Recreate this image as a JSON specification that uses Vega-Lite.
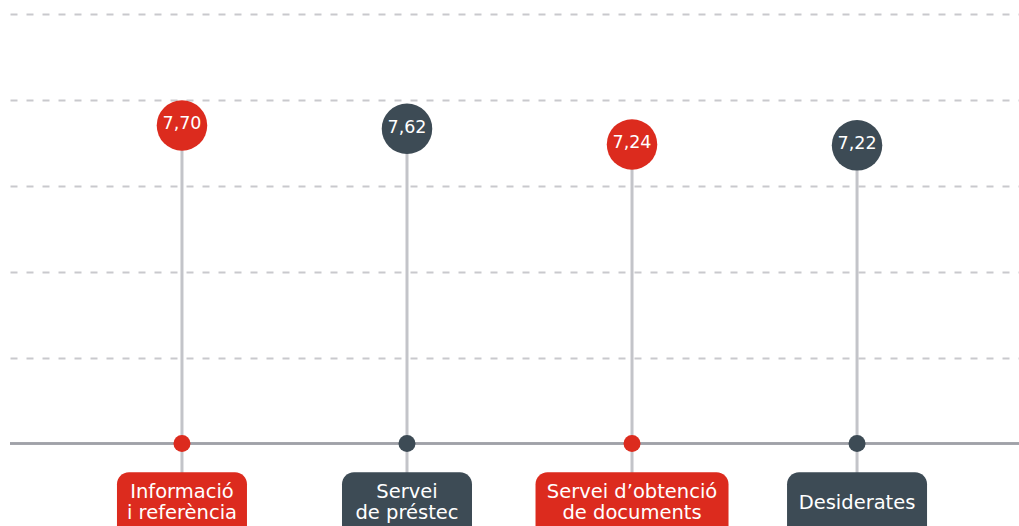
{
  "$schema": "https://vega.github.io/schema/vega-lite/v6.json",
  "width": 1009,
  "height": 512,
  "autosize": {"type": "none"},
  "padding": {"left": 10, "top": 14, "right": 0, "bottom": 0},
  "background": "white",
  "config": {
    "view": {"stroke": null},
    "font": "DejaVu Sans",
    "locale": {"number": {"decimal": ",", "thousands": ".", "grouping": [3], "currency": ["", " €"]}}
  },
  "data": {
    "values": [
      {"servei": "Informació i referència", "etiqueta": "Informació\ni referència", "valor": 7.70},
      {"servei": "Servei de préstec", "etiqueta": "Servei\nde préstec", "valor": 7.62},
      {"servei": "Servei d’obtenció de documents", "etiqueta": "Servei d’obtenció\nde documents", "valor": 7.24},
      {"servei": "Desiderates", "etiqueta": "Desiderates", "valor": 7.22}
    ]
  },
  "layer": [
    {
      "mark": {"type": "rule", "color": "#c3c4c9", "strokeWidth": 3},
      "encoding": {
        "x": {"field": "servei", "type": "nominal", "sort": null, "axis": null, "scale": {"type": "point", "domain": ["Informació i referència", "Servei de préstec", "Servei d’obtenció de documents", "Desiderates"], "padding": 0.742, "align": 0.515}},
        "y": {"field": "valor", "type": "quantitative", "scale": {"domain": [-2, 10.4], "nice": false, "zero": false},
              "axis": {"values": [2.08, 4.16, 6.24, 8.32, 10.4], "grid": true, "labels": false, "ticks": false, "domain": false, "title": null, "gridDash": [7, 9], "gridColor": "#c9c9cd", "gridWidth": 2, "minExtent": 0, "maxExtent": 0}},
        "y2": {"datum": -0.8}
      }
    },
    {
      "mark": {"type": "rule", "color": "#a0a1a8", "strokeWidth": 2},
      "encoding": {
        "y": {"datum": 0, "type": "quantitative", "scale": {"domain": [-2, 10.4], "nice": false, "zero": false},
              "axis": {"values": [2.08, 4.16, 6.24, 8.32, 10.4], "grid": true, "labels": false, "ticks": false, "domain": false, "title": null, "gridDash": [7, 9], "gridColor": "#c9c9cd", "gridWidth": 2, "minExtent": 0, "maxExtent": 0}}
      }
    },
    {
      "mark": {"type": "circle", "size": 289, "opacity": 1},
      "encoding": {
        "x": {"field": "servei", "type": "nominal", "sort": null, "axis": null, "scale": {"type": "point", "domain": ["Informació i referència", "Servei de préstec", "Servei d’obtenció de documents", "Desiderates"], "padding": 0.742, "align": 0.515}},
        "y": {"datum": 0, "type": "quantitative", "scale": {"domain": [-2, 10.4], "nice": false, "zero": false}},
        "color": {"field": "servei", "type": "nominal", "sort": null, "legend": null,
                  "scale": {"domain": ["Informació i referència", "Servei de préstec", "Servei d’obtenció de documents", "Desiderates"], "range": ["#dc2b1e", "#3d4b55", "#dc2b1e", "#3d4b55"]}}
      }
    },
    {
      "mark": {"type": "circle", "size": 2550, "opacity": 1},
      "encoding": {
        "x": {"field": "servei", "type": "nominal", "sort": null, "axis": null, "scale": {"type": "point", "domain": ["Informació i referència", "Servei de préstec", "Servei d’obtenció de documents", "Desiderates"], "padding": 0.742, "align": 0.515}},
        "y": {"field": "valor", "type": "quantitative", "scale": {"domain": [-2, 10.4], "nice": false, "zero": false}},
        "color": {"field": "servei", "type": "nominal", "sort": null, "legend": null,
                  "scale": {"domain": ["Informació i referència", "Servei de préstec", "Servei d’obtenció de documents", "Desiderates"], "range": ["#dc2b1e", "#3d4b55", "#dc2b1e", "#3d4b55"]}}
      }
    },
    {
      "mark": {"type": "text", "color": "white", "fontSize": 17.5, "align": "center", "baseline": "middle", "dy": -1},
      "encoding": {
        "x": {"field": "servei", "type": "nominal", "sort": null, "axis": null, "scale": {"type": "point", "domain": ["Informació i referència", "Servei de préstec", "Servei d’obtenció de documents", "Desiderates"], "padding": 0.742, "align": 0.515}},
        "y": {"field": "valor", "type": "quantitative", "scale": {"domain": [-2, 10.4], "nice": false, "zero": false}},
        "text": {"field": "valor", "type": "quantitative", "format": ".2f"}
      }
    },
    {
      "mark": {"type": "bar", "cornerRadius": 12, "clip": true},
      "encoding": {
        "x": {"field": "servei", "type": "nominal", "sort": null, "axis": null, "scale": {"type": "point", "domain": ["Informació i referència", "Servei de préstec", "Servei d’obtenció de documents", "Desiderates"], "padding": 0.742, "align": 0.515}},
        "y": {"datum": -0.7, "type": "quantitative", "scale": {"domain": [-2, 10.4], "nice": false, "zero": false}},
        "y2": {"datum": -2.6},
        "size": {"field": "servei", "type": "nominal", "legend": null,
                 "scale": {"type": "ordinal", "domain": ["Informació i referència", "Servei de préstec", "Servei d’obtenció de documents", "Desiderates"], "range": [130, 130, 193, 140]}},
        "color": {"field": "servei", "type": "nominal", "sort": null, "legend": null,
                  "scale": {"domain": ["Informació i referència", "Servei de préstec", "Servei d’obtenció de documents", "Desiderates"], "range": ["#dc2b1e", "#3d4b55", "#dc2b1e", "#3d4b55"]}}
      }
    },
    {
      "transform": [{"filter": "indexof(datum.etiqueta, '\\n') >= 0"}],
      "mark": {"type": "text", "color": "white", "fontSize": 19.5, "align": "center", "baseline": "alphabetic", "lineBreak": "\n", "lineHeight": 21},
      "encoding": {
        "x": {"field": "servei", "type": "nominal", "sort": null, "axis": null, "scale": {"type": "point", "domain": ["Informació i referència", "Servei de préstec", "Servei d’obtenció de documents", "Desiderates"], "padding": 0.742, "align": 0.515}},
        "y": {"datum": -1.315, "type": "quantitative", "scale": {"domain": [-2, 10.4], "nice": false, "zero": false}},
        "text": {"field": "etiqueta", "type": "nominal"}
      }
    },
    {
      "transform": [{"filter": "indexof(datum.etiqueta, '\\n') < 0"}],
      "mark": {"type": "text", "color": "white", "fontSize": 19.5, "align": "center", "baseline": "alphabetic"},
      "encoding": {
        "x": {"field": "servei", "type": "nominal", "sort": null, "axis": null, "scale": {"type": "point", "domain": ["Informació i referència", "Servei de préstec", "Servei d’obtenció de documents", "Desiderates"], "padding": 0.742, "align": 0.515}},
        "y": {"datum": -1.58, "type": "quantitative", "scale": {"domain": [-2, 10.4], "nice": false, "zero": false}},
        "text": {"field": "etiqueta", "type": "nominal"}
      }
    }
  ]
}
